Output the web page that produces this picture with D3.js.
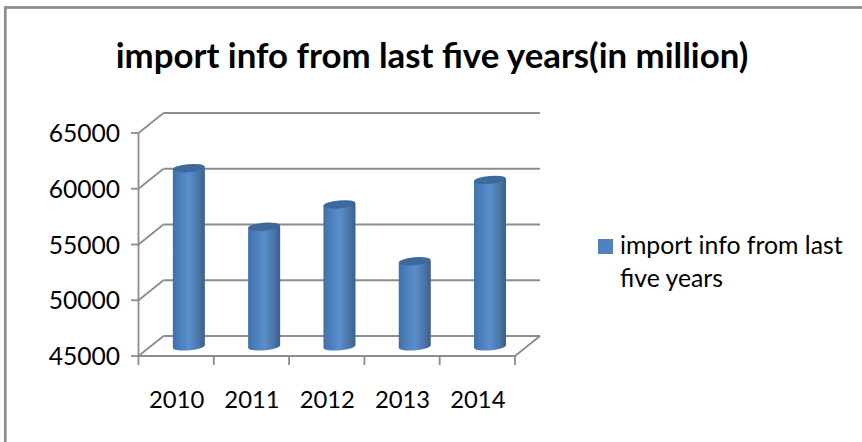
<!DOCTYPE html>
<html><head><meta charset="utf-8">
<script src="https://cdn.jsdelivr.net/npm/d3@7"></script>
<style>html,body{margin:0;padding:0;background:#fff}svg{display:block}text{font-family:Lato,"Open Sans",sans-serif;fill:#000}</style>
</head><body><div id="c"></div>
<script>
const categories=["2010","2011","2012","2013","2014"];
const values=[60950,55700,57700,52600,59900];
const yTicks=[45000,50000,55000,60000,65000];
const chartTitle="import info from last five years(in million)";
const legendLines=["import info from last","five years"];

const W=862,H=442,grey="#8c8c8c";
const svg=d3.select("#c").append("svg").attr("width",W).attr("height",H);
const defs=svg.append("defs");
const g=defs.append("linearGradient").attr("id","cyl");
[[0,"#3f6fa9"],[.12,"#4679b5"],[.5,"#5a8ecc"],[.8,"#4a76a8"],[1,"#3a5f8b"]].forEach(([o,c])=>g.append("stop").attr("offset",o).attr("stop-color",c));

svg.append("rect").attr("x",5.3).attr("y",7.5).attr("width",W).attr("height",H-1).attr("fill","#fff").attr("stroke",grey).attr("stroke-width",2.7);

svg.append("text").attr("x",432).attr("y",68).attr("text-anchor","middle").attr("font-size",34.8).attr("font-weight",700).text(chartTitle);

const x=d3.scaleBand().domain(categories).range([138.5,515]);
const y=d3.scaleLinear().domain([45000,65000]).range([356,133]);
const dx=25,dy=-20;

const line=(a,b,c,d)=>svg.append("line").attr("x1",a).attr("y1",b).attr("x2",c).attr("y2",d).attr("stroke",grey).attr("stroke-width",1.8);
yTicks.forEach(t=>{
  const p=y(t);
  line(138.5+dx,p+dy,515+dx,p+dy);
  line(138.5,p,138.5+dx,p+dy);
  line(131,p,138.5,p);
  svg.append("text").attr("x",120).attr("y",p+9.2).attr("text-anchor","end").attr("font-size",24.6).text(t);
});
line(138.5,y(65000),138.5,y(45000));
line(138.5,y(45000),515,y(45000));
line(515,y(45000),515+dx,y(45000)+dy);
[...categories.map(c=>x(c)),515].forEach(p=>line(p,356,p,365));

const bw=32,ry=4;
const cx=c=>x(c)+x.bandwidth()/2+dx/2+0.2;
const base=y(45000)+dy/2;
categories.forEach((c,i)=>{
  const top=y(values[i])+dy/2,l=cx(c)-bw/2,r=cx(c)+bw/2;
  svg.append("path").attr("fill","url(#cyl)")
    .attr("d",`M${l},${top+0.8}L${l},${base+1.4}A${bw/2},${ry} -5 0 0 ${r},${base-0.8}L${r},${top-0.8}Z`);
  svg.append("ellipse").attr("cx",cx(c)).attr("cy",top).attr("rx",bw/2).attr("ry",ry).attr("fill","#3c6a9c")
    .attr("transform",`rotate(-5 ${cx(c)} ${top})`);
  svg.append("text").attr("x",x(c)+x.bandwidth()/2+0.5).attr("y",407.5).attr("text-anchor","middle").attr("font-size",23.8).text(c);
});

svg.append("rect").attr("x",598).attr("y",239).attr("width",15).attr("height",15).attr("fill","#4f81bd");
legendLines.forEach((t,i)=>svg.append("text").attr("x",620).attr("y",254+i*33).attr("font-size",24.8).text(t));
</script></body></html>
